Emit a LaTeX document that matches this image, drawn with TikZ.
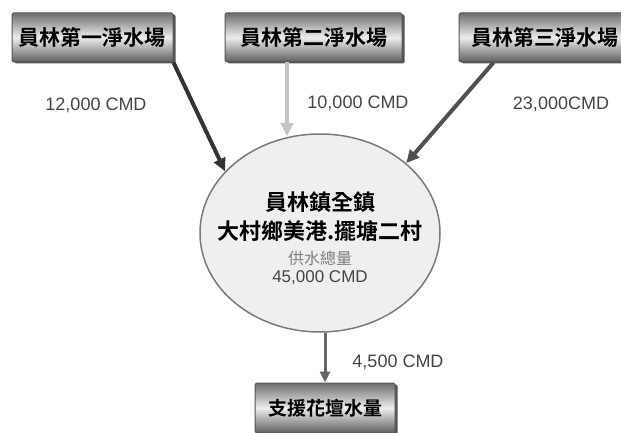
\documentclass[tikz,border=0pt]{standalone}
\usepackage{fontspec}
\setmainfont{Liberation Sans}
\newfontfamily\cjk{Noto Sans CJK TC}
\newfontfamily\cjkb{Noto Sans CJK TC Bold}
\usetikzlibrary{arrows.meta,shadows,shapes.geometric}
\definecolor{boxedge}{HTML}{555555}
\definecolor{boxdark}{HTML}{6E6E6E}
\definecolor{boxlight}{HTML}{EDEDED}
\definecolor{ellfill}{HTML}{EFEFEF}
\definecolor{elledge}{HTML}{7A7A7A}
\definecolor{labelcol}{HTML}{444444}
\definecolor{arrdark}{HTML}{333333}
\definecolor{arrmid}{HTML}{505050}
\definecolor{arrlight}{HTML}{C4C4C4}
\definecolor{arrbot}{HTML}{666666}
\tikzset{
  plantbox/.style={draw=boxedge, line width=1pt, rounded corners=1.5pt,
    shading=axis, top color=boxdark, bottom color=boxdark!85!black, middle color=boxlight,
    drop shadow={shadow xshift=2.5pt, shadow yshift=-1.5pt, fill=boxedge, opacity=1},
    minimum height=49pt, inner sep=0pt, font=\cjkb\fontsize{21}{21}\selectfont},
  flowlabel/.style={text=labelcol, font=\fontsize{18}{18}\selectfont, inner sep=0pt},
  flowarrow/.style={line width=4pt, -{Triangle[length=13pt,width=12pt]}},
}
\begin{document}
\begin{tikzpicture}[x=1pt,y=1pt]
\useasboundingbox (0,0) rectangle (621,432);
\begin{scope}
\clip (0,0) rectangle (621,432);
\node[plantbox, minimum width=161pt] (b1) at (92.5,394.5) {員林第一淨水場};
\node[plantbox, minimum width=177pt] (b2) at (313.5,394.5) {員林第二淨水場};
\node[plantbox, minimum width=172pt] (b3) at (545,394.5) {員林第三淨水場};
\node[plantbox, minimum width=140pt, minimum height=50pt, font=\cjkb\fontsize{19}{19}\selectfont] (b4) at (325,24) {支援花壇水量};
\end{scope}

\node[ellipse, draw=elledge, line width=1.5pt, fill=ellfill,
      minimum width=240pt, minimum height=198pt, inner sep=0pt] (ell) at (320,199) {};
\node[font=\cjkb\fontsize{22}{22}\selectfont, inner sep=0pt] (t1) at ([yshift=31pt]ell.center) {員林鎮全鎮};
\node[font=\cjkb\fontsize{22}{22}\selectfont, inner sep=0pt] (t2) at ([yshift=2pt]ell.center) {大村鄉美港.擺塘二村};
\node[font=\cjk\fontsize{16}{16}\selectfont, text=gray, inner sep=0pt] (t3) at ([yshift=-25pt]ell.center) {供水總量};
\node[font=\fontsize{17}{17}\selectfont, text=labelcol, inner sep=0pt] (t4) at ([yshift=-45pt]ell.center) {45,000 CMD};

\draw[flowarrow, arrdark] (b1.south east) -- (ell.147);
\draw[flowarrow, arrlight] ([xshift=-26.5pt]b2.south) -- ([xshift=-33pt,yshift=-3pt]ell.north);
\draw[flowarrow, arrmid] ([xshift=35pt]b3.south west) -- (ell.39);
\draw[line width=3pt, arrbot, -{Triangle[length=11pt,width=10pt]}] ([xshift=5pt]ell.south) -- (b4.north);

\node[flowlabel] (l1) at (96,327) {12,000 CMD};
\node[flowlabel] (l2) at (358,329) {10,000 CMD};
\node[flowlabel] (l3) at (561,328) {23,000CMD};
\node[flowlabel] (l4) at (398,70) {4,500 CMD};
\end{tikzpicture}
\end{document}
